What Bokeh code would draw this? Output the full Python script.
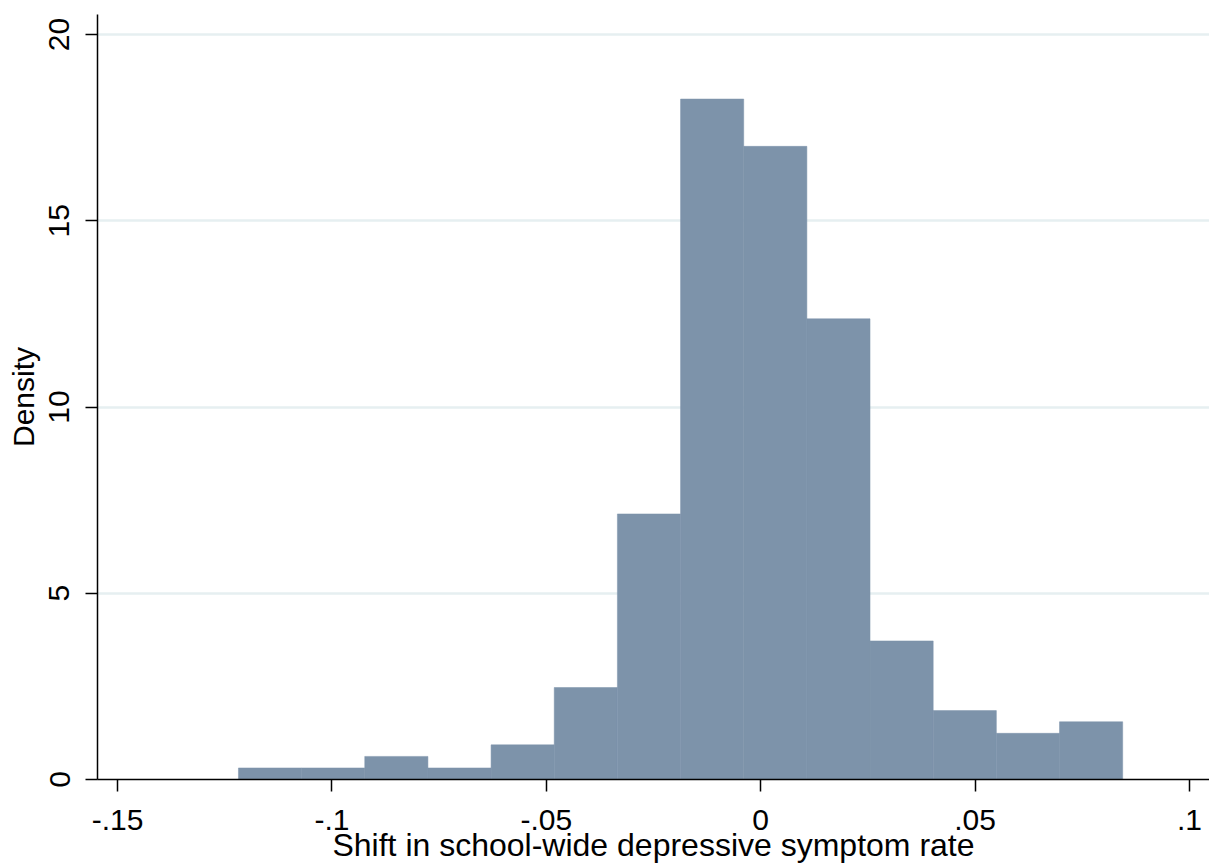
from bokeh.plotting import figure
from bokeh.models import Range1d, FixedTicker, CustomJSTickFormatter
from bokeh.embed import file_html
from bokeh.resources import INLINE
import numpy as np

# Histogram of school-level shifts (density scale)
bin_start = -0.1218
bin_width = 0.01473
density = [0.31, 0.31, 0.62, 0.31, 0.93, 2.47, 7.13, 18.27, 17.0, 12.37, 3.72, 1.85, 1.24, 1.55]

x_ticks = [-0.15, -0.1, -0.05, 0.0, 0.05, 0.1]
y_ticks = [0, 5, 10, 15, 20]

x_title = "Shift in school-wide depressive symptom rate"
y_title = "Density"

left = bin_start + bin_width * np.arange(len(density))
right = left + bin_width

FONT = "Liberation Sans"

p = figure(
    width=1209, height=865,
    output_backend="svg", toolbar_location=None,
    x_range=Range1d(-0.15467, 0.10467),
    y_range=Range1d(0, 20.54),
    min_border_left=97, min_border_right=0,
    min_border_top=14, min_border_bottom=86,
)
p.outline_line_color = None
p.background_fill_color = "white"
p.border_fill_color = "white"

p.quad(left=left, right=right, bottom=0, top=density,
       fill_color="#7D93AA", line_color="#7D93AA", line_width=0.5)

# axes
p.xaxis.ticker = FixedTicker(ticks=x_ticks)
p.yaxis.ticker = FixedTicker(ticks=y_ticks)
p.xaxis.formatter = CustomJSTickFormatter(code="""
    let s = tick.toFixed(2).replace(/0+$/, '').replace(/\\.$/, '');
    return s.replace('0.', '.');
""")
for ax in (p.xaxis[0], p.yaxis[0]):
    ax.axis_line_color = "black"
    ax.axis_line_width = 1.5
    ax.major_tick_line_color = "black"
    ax.major_tick_line_width = 1.5
    ax.major_tick_in = 0
    ax.major_tick_out = 12
    ax.minor_tick_line_color = None
    ax.major_label_text_font = FONT
    ax.major_label_text_font_size = "30px"
    ax.major_label_text_color = "black"
    ax.axis_label_text_font = FONT
    ax.axis_label_text_font_size = "30px"
    ax.axis_label_text_font_style = "normal"
    ax.axis_label_text_color = "black"

p.xaxis.axis_label = x_title
p.yaxis.axis_label = y_title
p.xaxis.axis_label_text_font_size = "32px"
p.xaxis.major_label_standoff = 18
p.xaxis.axis_label_standoff = -6
p.yaxis.major_label_standoff = 16
p.yaxis.axis_label_standoff = 7
p.yaxis.major_label_orientation = "vertical"

# grid
p.xgrid.grid_line_color = None
p.ygrid.ticker = FixedTicker(ticks=[5, 10, 15, 20])
p.ygrid.grid_line_color = "#E6EFF1"
p.ygrid.grid_line_width = 2.5

open("out.html", "w").write(file_html(p, INLINE))
